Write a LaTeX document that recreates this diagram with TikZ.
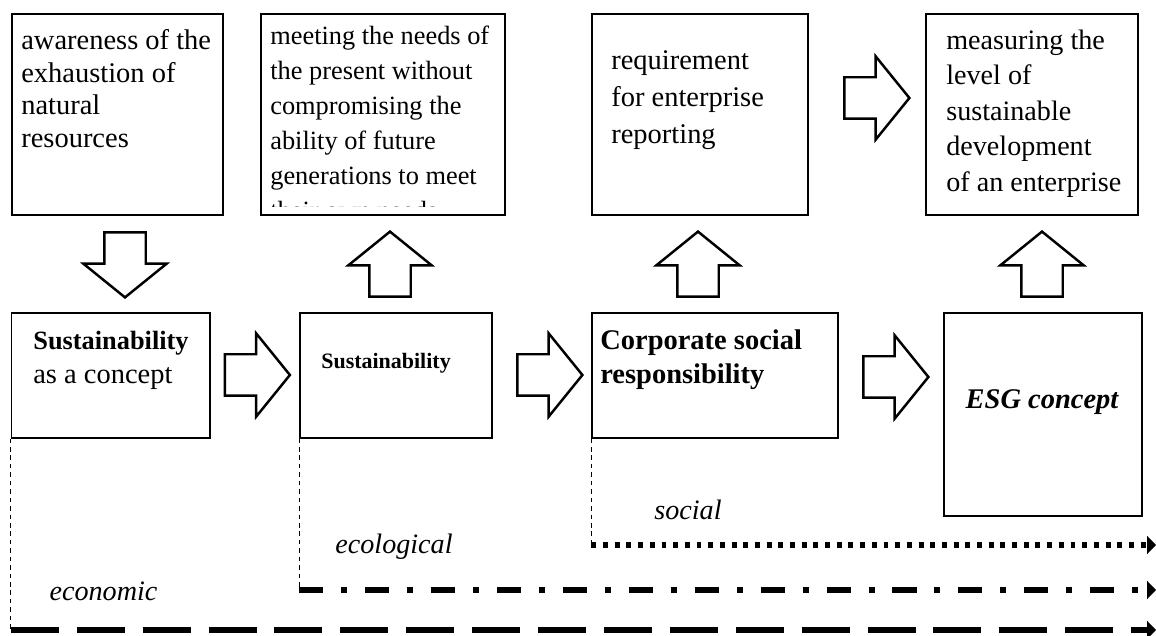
\documentclass[tikz,border=0pt]{standalone}
\usepackage{fontspec}
\setmainfont{Liberation Serif}
\usetikzlibrary{shapes.arrows,arrows.meta}

\tikzset{
  box/.style={draw,line width=0.7pt,inner sep=0pt},
  txt/.style={anchor=base west,inner sep=0pt},
  lbl/.style={anchor=base,inner sep=0pt,font=\fontsize{16}{19}\selectfont\itshape},
  blockarrow/.style={single arrow,draw,line width=1.4pt,inner xsep=0pt,inner ysep=0.39cm,
    minimum height=1.3cm,single arrow head extend=0.42cm,single arrow tip angle=102},
  vline/.style={line width=0.6pt,dash pattern=on 2.6pt off 2.2pt},
  econline/.style={line width=3.4pt,dash pattern=on 27.3pt off 10.2pt,-{Triangle[length=5pt,width=10pt]}},
  ecolline/.style={line width=3.4pt,dash pattern=on 13.7pt off 10.2pt on 3.4pt off 10.2pt,-{Triangle[length=5pt,width=10pt]}},
  socline/.style={line width=3.4pt,dash pattern=on 2.8pt off 3.85pt,-{Triangle[length=5pt,width=10pt]}}
}

\begin{document}
\begin{tikzpicture}
\useasboundingbox (0,0) rectangle (23.12,12.7);
% top row
\node[box,minimum width=4.22cm,minimum height=4.02cm] (aware) at (2.35,10.41) {};
\node[box,minimum width=4.88cm,minimum height=4.02cm] (needs) at (7.66,10.41) {};
\node[box,minimum width=4.32cm,minimum height=4.02cm] (report) at (14.00,10.41) {};
\node[box,minimum width=4.24cm,minimum height=4.02cm] (measure) at (20.64,10.41) {};
\node[txt,font=\fontsize{16.2}{18.5}\selectfont] (awaretxt) at (0.42,11.71)
  {\parbox[t]{5cm}{awareness of the\\exhaustion of\\natural\\resources}};
\begin{scope}
\clip ([yshift=0.18cm]needs.south west) rectangle (needs.north east);
\node[txt,font=\fontsize{15}{19.9}\selectfont] (needstxt) at (5.40,11.80)
  {\parbox[t]{6cm}{meeting the needs of\\the present without\\compromising the\\ability of future\\generations to meet\\their own needs}};
\end{scope}
\node[txt,font=\fontsize{16.2}{21}\selectfont] (reporttxt) at (12.22,11.31)
  {\parbox[t]{5cm}{requirement\\for enterprise\\reporting}};
\node[txt,font=\fontsize{16}{20.2}\selectfont] (measuretxt) at (18.92,11.71)
  {\parbox[t]{5cm}{measuring the\\level of\\sustainable\\development\\of an enterprise}};
% bottom row
\node[box,minimum width=3.97cm,minimum height=2.5cm] (concept) at (2.215,5.19) {};
\node[box,minimum width=3.84cm,minimum height=2.5cm] (sust) at (7.92,5.19) {};
\node[box,minimum width=4.92cm,minimum height=2.5cm] (csr) at (14.30,5.19) {};
\node[box,minimum width=3.96cm,minimum height=4.06cm] (esg) at (20.86,4.41) {};
\node[txt,font=\fontsize{16.2}{19.3}\selectfont] (concepttxt) at (0.66,5.71)
  {\parbox[t]{5cm}{{\fontsize{15}{19.3}\selectfont\textbf{Sustainability}}\\as a concept}};
\node[txt,font=\fontsize{12.5}{15}\selectfont\bfseries] (susttxt) at (6.42,5.32) {Sustainability};
\node[txt,font=\fontsize{16.2}{19.3}\selectfont\bfseries] (csrtxt) at (12.00,5.71)
  {\parbox[t]{5cm}{Corporate social\\responsibility}};
\node[anchor=base,inner sep=0pt,font=\fontsize{16.2}{19.3}\selectfont\bfseries\itshape] (esgtxt) at (20.84,4.53) {ESG concept};
% block arrows
\node[blockarrow,rotate=-90] (down1) at (2.50,7.57) {};
\node[blockarrow,rotate=90] (up2) at (7.80,7.25) {};
\node[blockarrow,rotate=90] (up3) at (13.96,7.25) {};
\node[blockarrow,rotate=90] (up4) at (20.84,7.25) {};
\node[blockarrow] (right1) at (4.98,5.20) {};
\node[blockarrow] (right2) at (10.83,5.20) {};
\node[blockarrow] (right3) at (17.75,5.16) {};
\node[blockarrow] (right4) at (17.37,10.74) {};
% the three lines
\coordinate (soc) at (csr.south west |- 0,1.80);
\coordinate (socend) at (23.12,1.80);
\coordinate (ecol) at (sust.south west |- 0,0.90);
\coordinate (ecolend) at (23.12,0.90);
\coordinate (econ) at (concept.south west |- 0,0.10);
\coordinate (econend) at (23.12,0.10);
\draw[vline] (csr.south west) -- (soc);
\draw[vline] (sust.south west) -- (ecol);
\draw[vline] (concept.south west) -- (econ);
\draw[socline] (soc) -- (socend);
\draw[ecolline] (ecol) -- (ecolend);
\draw[econline] (econ) -- (econend);
\node[lbl] (social) at (13.76,2.31) {social};
\node[lbl] (ecological) at (7.88,1.63) {ecological};
\node[lbl] (economic) at (2.07,0.69) {economic};
\end{tikzpicture}
\end{document}
